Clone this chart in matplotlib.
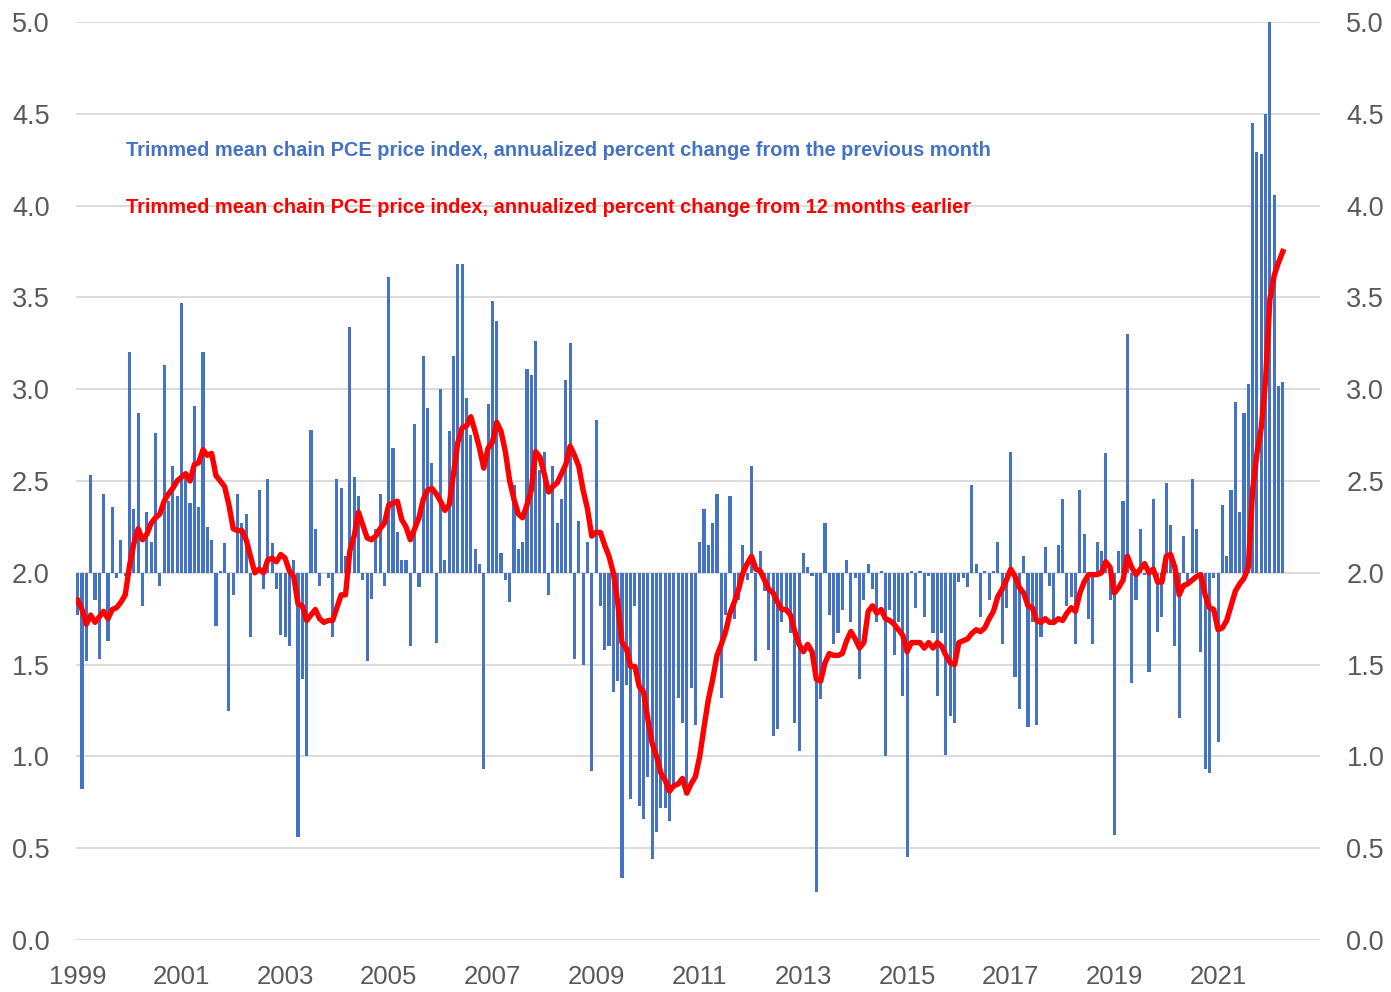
import matplotlib
matplotlib.use("Agg")
import matplotlib.pyplot as plt
import numpy as np

# Monthly data, Jan 1999 .. Apr 2022
monthly_change = [
    1.77, 0.82, 1.52, 2.53, 1.85, 1.53, 2.43, 1.63, 2.36, 1.97, 2.18, 1.98,
    3.20, 2.35, 2.87, 1.82, 2.33, 2.17, 2.76, 1.93, 3.13, 2.39, 2.58, 2.42,
    3.47, 2.53, 2.38, 2.91, 2.36, 3.20, 2.25, 2.18, 1.71, 2.01, 2.16, 1.25,
    1.88, 2.43, 2.27, 2.32, 1.65, 1.99, 2.45, 1.91, 2.51, 2.16, 1.91, 1.66,
    1.65, 1.60, 2.07, 0.56, 1.42, 1.00, 2.78, 2.24, 1.93, 2.00, 1.97, 1.65,
    2.51, 2.46, 2.09, 3.34, 2.52, 2.42, 1.96, 1.52, 1.86, 2.24, 2.43, 1.93,
    3.61, 2.68, 2.22, 2.07, 2.07, 1.60, 2.81, 1.92, 3.18, 2.90, 2.60, 1.62,
    3.00, 2.07, 2.77, 3.18, 3.68, 3.68, 2.95, 2.75, 2.13, 2.05, 0.93, 2.92,
    3.48, 3.37, 2.11, 1.96, 1.84, 2.48, 2.13, 2.17, 3.11, 3.08, 3.26, 2.56,
    2.66, 1.88, 2.58, 2.27, 2.40, 3.05, 3.25, 1.53, 2.28, 1.50, 2.17, 0.92,
    2.83, 1.82, 1.58, 1.60, 1.35, 1.41, 0.34, 1.39, 0.77, 1.82, 0.73, 0.66,
    0.89, 0.44, 0.59, 0.72, 0.72, 0.65, 0.83, 1.32, 1.18, 0.80, 1.37, 1.17,
    2.17, 2.35, 2.15, 2.27, 2.43, 1.32, 1.77, 2.42, 1.75, 1.85, 2.15, 1.96,
    2.58, 1.52, 2.12, 1.90, 1.58, 1.11, 1.15, 1.73, 1.78, 1.67, 1.18, 1.03,
    2.11, 2.03, 1.98, 0.26, 1.31, 2.27, 1.77, 1.61, 1.67, 1.80, 2.07, 1.73,
    1.97, 1.42, 1.85, 2.05, 1.91, 1.73, 2.01, 1.00, 1.80, 1.55, 1.73, 1.33,
    0.45, 2.01, 1.81, 2.01, 1.76, 1.98, 1.67, 1.33, 1.67, 1.01, 1.22, 1.18,
    1.95, 1.97, 1.92, 2.48, 2.05, 1.76, 2.01, 1.85, 2.01, 2.17, 1.61, 1.81,
    2.66, 1.43, 1.26, 2.09, 1.16, 1.73, 1.17, 1.65, 2.14, 1.93, 1.74, 2.15,
    2.40, 1.82, 1.87, 1.61, 2.45, 2.21, 1.75, 1.61, 2.17, 2.12, 2.65, 1.85,
    0.57, 2.12, 2.39, 3.30, 1.40, 1.85, 2.24, 1.99, 1.46, 2.40, 1.68, 1.76,
    2.49, 2.26, 1.60, 1.21, 2.20, 1.93, 2.51, 2.24, 1.57, 0.93, 0.91, 1.97,
    1.08, 2.37, 2.09, 2.45, 2.93, 2.33, 2.87, 3.03, 4.45, 4.29, 4.28, 4.50,
    5.00, 4.06, 3.02, 3.04,
]

twelve_month_change = [
    1.85, 1.80, 1.72, 1.77, 1.73, 1.76, 1.79, 1.75, 1.80, 1.81, 1.84, 1.88,
    2.04, 2.16, 2.24, 2.18, 2.21, 2.27, 2.30, 2.32, 2.39, 2.43, 2.46, 2.50,
    2.52, 2.54, 2.50, 2.59, 2.60, 2.67, 2.64, 2.65, 2.53, 2.50, 2.47, 2.37,
    2.24, 2.23, 2.23, 2.18, 2.09, 2.00, 2.02, 2.00, 2.07, 2.08, 2.06, 2.10,
    2.08, 2.01, 1.98, 1.83, 1.82, 1.74, 1.77, 1.80, 1.75, 1.73, 1.74, 1.74,
    1.81, 1.88, 1.88, 2.12, 2.20, 2.33, 2.26, 2.19, 2.18, 2.20, 2.24, 2.27,
    2.37, 2.38, 2.39, 2.29, 2.25, 2.18, 2.24, 2.30, 2.40, 2.45, 2.46, 2.43,
    2.39, 2.34, 2.37, 2.54, 2.71, 2.79, 2.80, 2.85, 2.77, 2.68, 2.57, 2.68,
    2.71, 2.82, 2.77, 2.66, 2.50, 2.40, 2.32, 2.30, 2.37, 2.45, 2.66, 2.63,
    2.54, 2.44, 2.47, 2.49, 2.54, 2.59, 2.69, 2.64, 2.58, 2.45, 2.35, 2.20,
    2.22, 2.22, 2.15, 2.09, 2.00, 1.84, 1.62, 1.59, 1.49, 1.49, 1.38, 1.35,
    1.20, 1.07, 1.00, 0.91, 0.87, 0.81, 0.84, 0.85, 0.88, 0.80, 0.85, 0.89,
    1.00, 1.16, 1.31, 1.42, 1.55, 1.61, 1.68, 1.78, 1.84, 1.91, 2.00, 2.05,
    2.09, 2.02, 2.01, 1.96, 1.91, 1.89, 1.84, 1.80, 1.80, 1.77, 1.68, 1.61,
    1.57, 1.61, 1.57, 1.42, 1.41, 1.51, 1.56, 1.55, 1.55, 1.56, 1.63, 1.68,
    1.64, 1.59, 1.62, 1.79, 1.82, 1.78, 1.80, 1.75, 1.74, 1.72, 1.69, 1.66,
    1.57, 1.62, 1.62, 1.62, 1.59, 1.62, 1.59, 1.62, 1.60, 1.55, 1.51, 1.50,
    1.62, 1.63, 1.64, 1.67, 1.69, 1.68, 1.70, 1.75, 1.79, 1.87, 1.91, 1.96,
    2.02, 1.98, 1.92, 1.89, 1.82, 1.81, 1.74, 1.73, 1.75, 1.73, 1.73, 1.75,
    1.74, 1.78, 1.81, 1.79, 1.89, 1.95, 1.99, 1.99, 1.99, 2.00, 2.06, 2.03,
    1.89, 1.92, 1.96, 2.09, 2.03, 1.99, 2.02, 2.05, 2.00, 2.02, 1.95, 1.95,
    2.09, 2.10, 2.03, 1.88, 1.93, 1.94, 1.96, 1.98, 1.99, 1.88, 1.81, 1.80,
    1.69, 1.70, 1.74, 1.82, 1.90, 1.94, 1.97, 2.03, 2.45, 2.65, 2.79, 3.05,
    3.49, 3.62, 3.69, 3.75,
]

year_labels = ["1999", "2001", "2003", "2005", "2007", "2009", "2011",
               "2013", "2015", "2017", "2019", "2021"]
y_tick_values = [0.0, 0.5, 1.0, 1.5, 2.0, 2.5, 3.0, 3.5, 4.0, 4.5, 5.0]
label_blue = "Trimmed mean chain PCE price index, annualized percent change from the previous month"
label_red = "Trimmed mean chain PCE price index, annualized percent change from 12 months earlier"
baseline = 2.0

BLUE = "#4472C4"
RED = "#FF0000"
GRAY = "#595959"
GRID = "#D9D9D9"

narrow = ["Liberation Sans Narrow", "Liberation Sans", "DejaVu Sans"]

fig = plt.figure(figsize=(13.91, 9.92), dpi=100)
ax = fig.add_axes([76 / 1391, 52 / 992, (1320 - 76) / 1391, (940 - 22) / 992])

mc = np.array(monthly_change)
x = np.arange(len(mc))
ax.bar(x, mc - baseline, bottom=baseline, width=0.72, color=BLUE, zorder=2)
ax.plot(np.arange(len(twelve_month_change)), twelve_month_change,
        color=RED, lw=3.9, solid_joinstyle="round", zorder=3)

ax.set_ylim(0, 5)
ax.set_xlim(-0.4, 287.6)
ax.set_yticks(y_tick_values)
ax.set_yticklabels([f"{v:.1f}" for v in y_tick_values])
ax.set_xticks(np.arange(0, 24 * len(year_labels), 24))
ax.set_xticklabels(year_labels)
ax.yaxis.grid(True, color=GRID, lw=1.3, zorder=0)
ax.set_axisbelow(True)
for s in ax.spines.values():
    s.set_visible(False)
ax.tick_params(axis="y", length=0, pad=19, labelsize=19.5, labelcolor=GRAY,
               left=False, right=False, labelleft=True, labelright=True)
ax.tick_params(axis="x", length=0, pad=18, labelsize=18.5, labelcolor=GRAY)
for lab in ax.get_xticklabels() + ax.get_yticklabels():
    lab.set_family(narrow)

fig.text(126 / 1391, 1 - 151 / 992, label_blue,
         color=BLUE, fontsize=14.45, fontweight="bold", family=narrow,
         va="center", ha="left")
fig.text(126 / 1391, 1 - 207 / 992, label_red,
         color=RED, fontsize=14.45, fontweight="bold", family=narrow,
         va="center", ha="left")

fig.savefig("out.png", dpi=100)
